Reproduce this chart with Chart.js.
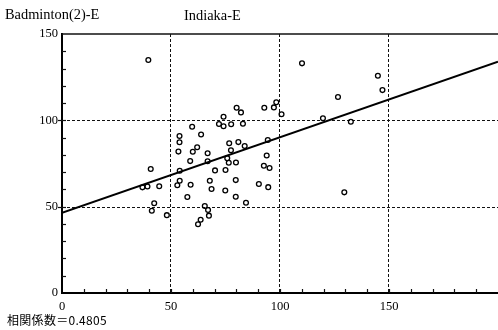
<!DOCTYPE html>
<html>
<head>
<meta charset="utf-8">
<script src="https://cdn.jsdelivr.net/npm/chart.js@4.4.1/dist/chart.umd.min.js"></script>
<style>
  body { margin: 0; background: #fff; overflow: hidden; }
  #wrap { position: relative; width: 498px; height: 330px; }
  .lbl { position: absolute; color: #000; white-space: nowrap; font-family: "Liberation Serif", serif; font-size: 14.4px; }
  #note { font-family: "Noto Sans CJK JP", sans-serif; font-size: 12px; letter-spacing: 0.3px; }
</style>
</head>
<body>
<div id="wrap">
  <canvas id="chart" width="498" height="330"></canvas>
  <div class="lbl" id="ytitle" style="left:5px; top:6px;">Badminton(2)-E</div>
  <div class="lbl" id="xtitle" style="left:184px; top:7px;">Indiaka-E</div>
  <div class="lbl" id="note" style="left:7px; top:311px;">相関係数＝0.4805</div>
</div>
<script>
// scatter values (x = Indiaka-E, y = Badminton(2)-E)
const xValues = [
  39.6, 110.1, 144.9, 147.0, 126.6, 119.7, 132.5, 100.7, 98.3, 97.2,
  92.8, 80.1, 82.1, 74.1, 72.0, 74.1, 77.6, 83.0, 59.7, 63.8,
  53.9, 53.9, 76.7, 80.9, 94.4, 53.4, 60.0, 62.0, 77.5, 83.8,
  66.8, 75.8, 93.9, 58.8, 66.8, 76.5, 79.8, 92.6, 95.2, 40.7,
  54.0, 70.2, 75.0, 36.9, 39.2, 44.6, 54.0, 52.9, 59.0, 67.8,
  68.6, 79.7, 74.9, 90.3, 94.6, 57.5, 79.7, 84.4, 42.3, 41.2,
  48.1, 65.5, 67.0, 67.4, 63.6, 62.4, 129.5
];
const yValues = [
  134.9, 133.0, 125.8, 117.5, 113.5, 101.2, 99.2, 103.5, 110.5, 107.5,
  107.3, 107.3, 104.6, 102.1, 97.9, 96.6, 97.7, 98.0, 96.3, 91.8,
  90.9, 87.3, 86.7, 87.4, 88.6, 81.9, 81.8, 84.4, 82.7, 85.1,
  80.9, 78.1, 79.6, 76.4, 76.3, 75.4, 75.6, 73.7, 72.4, 71.8,
  70.8, 71.0, 71.2, 61.2, 61.7, 61.8, 65.0, 62.4, 62.7, 65.0,
  60.2, 65.4, 59.4, 63.1, 61.3, 55.6, 55.7, 52.3, 52.0, 47.6,
  45.1, 50.4, 48.1, 44.8, 42.4, 39.8, 58.3
];

// regression line end points
const lineX = [0, 200];
const lineY = [46.5, 133.9];

const xTicks = [0, 50, 100, 150];
const yTicks = [0, 50, 100, 150];

const points = xValues.map((v, i) => ({ x: v, y: yValues[i] }));
const linePoints = lineX.map((v, i) => ({ x: v, y: lineY[i] }));

// dashed grid, top frame line and the small tick marks
const paperGrid = {
  id: 'paperGrid',
  beforeDatasetsDraw(chart) {
    const { ctx, chartArea: a, scales: { x, y } } = chart;
    const seg = (x1, y1, x2, y2) => { ctx.beginPath(); ctx.moveTo(x1, y1); ctx.lineTo(x2, y2); ctx.stroke(); };
    ctx.save();
    ctx.strokeStyle = '#111';
    ctx.lineWidth = 1;
    ctx.setLineDash([3, 2]);
    [50, 100, 150].forEach(v => {
      const px = Math.round(x.getPixelForValue(v)) - 0.5;
      seg(px, a.top, px, a.bottom);
    });
    [50, 100].forEach(v => {
      const py = Math.round(y.getPixelForValue(v)) + 0.5;
      seg(a.left, py, a.right, py);
    });
    ctx.setLineDash([]);
    ctx.lineWidth = 1.6;
    const top = y.getPixelForValue(150);
    seg(a.left, top, a.right, top);
    ctx.lineWidth = 1.2;
    for (let v = 10; v < 150; v += 10) {
      const py = Math.round(y.getPixelForValue(v)) + 0.5;
      seg(a.left, py, a.left + 4, py);
      if (v % 50 === 0) seg(a.left - 4, py, a.left, py);
    }
    for (let v = 10; v < 200; v += 10) {
      const px = Math.round(x.getPixelForValue(v)) + 0.5;
      seg(px, a.bottom, px, a.bottom - 4);
    }
    ctx.restore();
  }
};

const tickFont = { family: '"Liberation Serif", serif', size: 12.5 };

new Chart(document.getElementById('chart'), {
  type: 'scatter',
  data: {
    datasets: [
      {
        data: points,
        pointRadius: 2.4,
        pointBorderWidth: 1.3,
        borderColor: '#000',
        backgroundColor: 'rgba(0,0,0,0)',
      },
      {
        data: linePoints,
        showLine: true,
        borderColor: '#000',
        borderWidth: 2,
        pointRadius: 0,
      },
    ],
  },
  options: {
    responsive: false,
    animation: false,
    layout: { autoPadding: false, padding: { top: 34, left: 0, right: 0, bottom: 0 } },
    plugins: { legend: { display: false }, tooltip: { enabled: false } },
    scales: {
      x: {
        type: 'linear',
        min: 0,
        max: 200,
        afterBuildTicks: s => { s.ticks = xTicks.map(v => ({ value: v })); },
        afterFit: s => { s.height = 37; },
        ticks: { color: '#000', font: tickFont, padding: 6, maxRotation: 0 },
        grid: { display: false, drawTicks: false },
        border: { display: true, color: '#000', width: 2 },
      },
      y: {
        type: 'linear',
        min: 0,
        max: 150,
        afterBuildTicks: s => { s.ticks = yTicks.map(v => ({ value: v })); },
        afterFit: s => { s.width = 62; },
        ticks: { color: '#000', font: tickFont, padding: 4 },
        grid: { display: false, drawTicks: false },
        border: { display: true, color: '#000', width: 2 },
      },
    },
  },
  plugins: [paperGrid],
});
</script>
</body>
</html>
